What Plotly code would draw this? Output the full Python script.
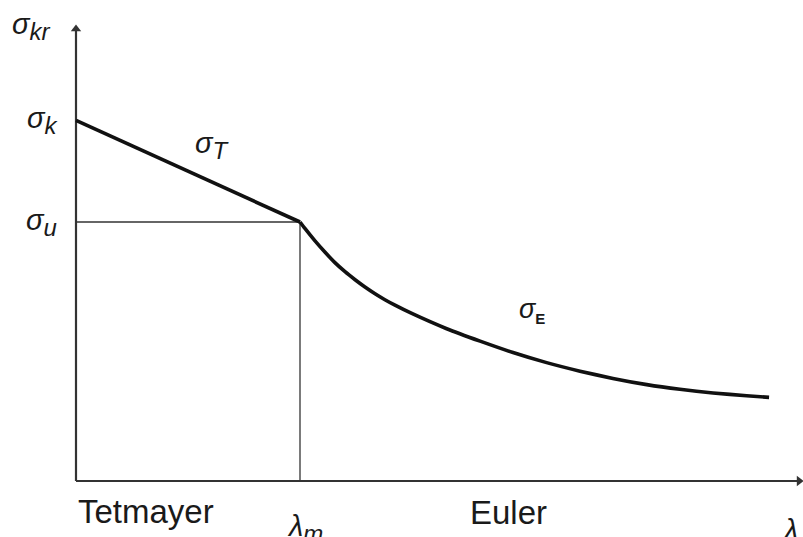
import plotly.graph_objects as go

# ---- data (schematic units: lambda_m = 100, sigma_u = 100) ----
lambda_m = 100.0
sigma_u = 100.0
sigma_k = 139.2

tetmayer_lambda = [0.0, 100.0]
tetmayer_sigma = [139.2, 100.0]

euler_lambda = [100.0, 102.2, 106.7, 111.2, 115.6, 120.1, 124.6, 129.0, 133.5,
                137.9, 142.4, 149.9, 165.5, 180.4, 195.1, 210.1, 225.0, 239.7,
                254.8, 269.6, 284.4, 299.4, 309.4]
euler_sigma = [100.0, 97.5, 92.7, 88.3, 84.3, 80.8, 77.7, 74.9, 72.3,
               70.0, 67.9, 64.7, 58.8, 54.0, 49.6, 45.7, 42.4, 39.6,
               37.2, 35.4, 34.0, 32.9, 32.3]

x_axis_end = 322.8
y_axis_end = 174.5

# ---- layout mapping ----
W, H = 803, 537
x0_px, y0_px = 76.0, 481.0
sx, sy = 2.24, 2.59
xmin = -x0_px / sx
xmax = xmin + W / sx
ymax = y0_px / sy
ymin = ymax - H / sy

AX_COL = "#333333"
CURVE_COL = "#111111"
TXT_COL = "#1a1a1a"

fig = go.Figure()

# axes
fig.add_trace(go.Scatter(x=[0, x_axis_end], y=[0, 0], mode="lines",
                         line=dict(color=AX_COL, width=2.2), hoverinfo="skip"))
fig.add_trace(go.Scatter(x=[0, 0], y=[0, y_axis_end], mode="lines",
                         line=dict(color=AX_COL, width=2.2), hoverinfo="skip"))
fig.add_trace(go.Scatter(x=[x_axis_end], y=[0], mode="markers",
                         marker=dict(symbol="triangle-right", size=9, color=AX_COL),
                         hoverinfo="skip"))
fig.add_trace(go.Scatter(x=[0], y=[y_axis_end], mode="markers",
                         marker=dict(symbol="triangle-up", size=9, color=AX_COL),
                         hoverinfo="skip"))

# helper lines
fig.add_trace(go.Scatter(x=[0, lambda_m], y=[sigma_u, sigma_u], mode="lines",
                         line=dict(color=AX_COL, width=1.3), hoverinfo="skip"))
fig.add_trace(go.Scatter(x=[lambda_m, lambda_m], y=[0, sigma_u], mode="lines",
                         line=dict(color=AX_COL, width=1.3), hoverinfo="skip"))

# curves
fig.add_trace(go.Scatter(x=tetmayer_lambda, y=tetmayer_sigma, mode="lines",
                         line=dict(color=CURVE_COL, width=3.6), hoverinfo="skip"))
fig.add_trace(go.Scatter(x=euler_lambda, y=euler_sigma, mode="lines",
                         line=dict(color=CURVE_COL, width=3.6, shape="spline", smoothing=0.5),
                         hoverinfo="skip"))

SANS = "Liberation Sans, Arial, sans-serif"


def sub(main, s, size=24):
    return f"<i>{main}</i><sub><span style='font-size:{size}px'><i>{s}</i></span></sub>"


def ann(text, x, y, xanchor="left", yanchor="middle", size=29):
    fig.add_annotation(text=text, x=x, y=y, xref="x", yref="y", showarrow=False,
                       xanchor=xanchor, yanchor=yanchor,
                       font=dict(family=SANS, size=size, color=TXT_COL))


ann(sub("σ", "kr"), -29.6, 175.6)
ann(sub("σ", "k"), -6.5, sigma_k, xanchor="right")
ann(sub("σ", "u"), -7.5, sigma_u, xanchor="right")
ann(sub("σ", "T"), 52.2, 129.5)
ann("<i>σ</i><sub><span style='font-size:15px'><b>E</b></span></sub>", 196.7, 66, size=27)
ann(sub("λ", "m"), 93.2, -18.3, xanchor="left")
ann("Tetmayer", 0, -11.9, size=33, xanchor="left")
ann("Euler", 175.1, -12.3, size=33, xanchor="left")
ann("<i>λ</i>", 314.5, -18.8, size=29, xanchor="left")

fig.update_layout(
    width=W, height=H,
    margin=dict(l=0, r=0, t=0, b=0),
    paper_bgcolor="white", plot_bgcolor="white",
    showlegend=False,
    xaxis=dict(range=[xmin, xmax], visible=False, fixedrange=True),
    yaxis=dict(range=[ymin, ymax], visible=False, fixedrange=True),
)

fig.write_html("out.html")
